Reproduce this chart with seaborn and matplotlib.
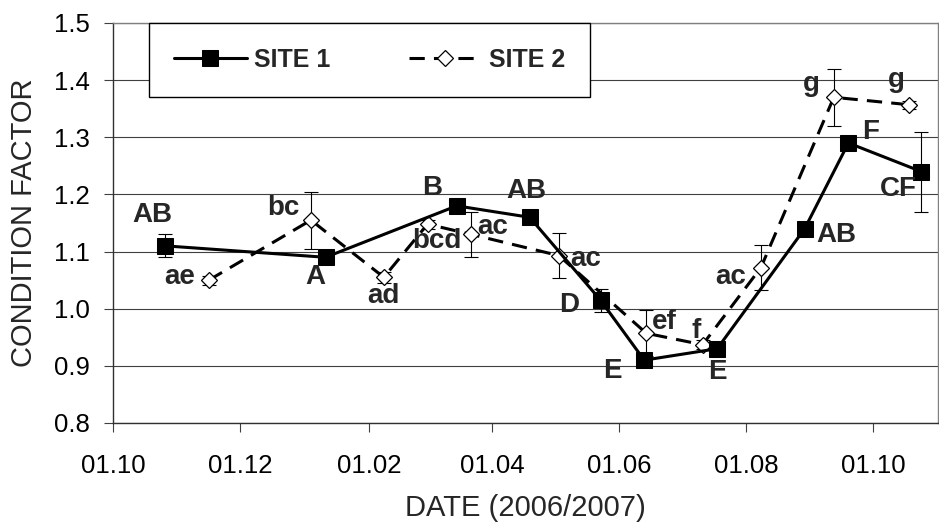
import matplotlib
matplotlib.use("Agg")
import matplotlib.pyplot as plt
import matplotlib.dates as mdates
import matplotlib.ticker as mticker
import pandas as pd
import seaborn as sns

# Condition factor by sampling date, with letter groups from the multiple comparison
site1_dates = ["2006-10-26", "2007-01-11", "2007-03-15", "2007-04-19", "2007-05-23",
               "2007-06-13", "2007-07-18", "2007-08-29", "2007-09-19", "2007-10-24"]
site1_cf = [1.11, 1.09, 1.18, 1.16, 1.015, 0.91, 0.93, 1.14, 1.29, 1.24]
site1_err = [0.02, 0.005, 0.005, 0.005, 0.02, 0.005, 0.005, 0.012, 0.005, 0.07]
site1_groups = ["AB", "A", "B", "AB", "D", "E", "E", "AB", "F", "CF"]

site2_dates = ["2006-11-16", "2007-01-04", "2007-02-08", "2007-03-01", "2007-03-22",
               "2007-05-03", "2007-06-14", "2007-07-11", "2007-08-08", "2007-09-12",
               "2007-10-18"]
site2_cf = [1.05, 1.155, 1.055, 1.148, 1.13, 1.093, 0.957, 0.937, 1.072, 1.37, 1.357]
site2_err = [0.008, 0.05, 0.01, 0.008, 0.04, 0.04, 0.04, 0.008, 0.04, 0.05, 0.007]
site2_groups = ["ae", "bc", "ad", "bcd", "ac", "ac", "ef", "f", "ac", "g", "g"]

series_names = ["SITE 1", "SITE 2"]
y_ticks = [0.8, 0.9, 1.0, 1.1, 1.2, 1.3, 1.4, 1.5]
x_title = "DATE (2006/2007)"
y_title = "CONDITION FACTOR"

# label placement around each point (pixels, x right / y up)
site1_offsets = [(-13, 31), (-10, -20), (-25, 18), (-3, 26), (-31, -5),
                 (-32, -11), (0, -23), (32, -6), (22, 11), (-23, -17)]
site2_offsets = [(-29, 3), (-27, 12), (0, -19), (9, -17), (21, 7), (27, -3),
                 (18, 11), (-6, 14), (-30, -9), (-23, 13), (-13, 25)]

s1 = pd.DataFrame({"date": pd.to_datetime(site1_dates), "cf": site1_cf, "err": site1_err})
s2 = pd.DataFrame({"date": pd.to_datetime(site2_dates), "cf": site2_cf, "err": site2_err})

sns.set_theme(style="white")
plt.rcParams["font.family"] = ["Liberation Sans", "DejaVu Sans"]

fig = plt.figure(figsize=(9.39, 5.27), dpi=100)
ax = fig.add_axes([113 / 939, 1 - 423 / 527, 825 / 939, 400 / 527])

# grid
ax.set_axisbelow(True)
ax.yaxis.grid(True, color="#404040", linewidth=0.8)

# SITE 2 (dashed, open diamonds) underneath SITE 1
ax.errorbar(s2["date"], s2["cf"], yerr=s2["err"], fmt="none", ecolor="black",
            elinewidth=0.8, capsize=4.7, capthick=0.8, zorder=2)
sns.lineplot(data=s2, x="date", y="cf", ax=ax, color="black", linewidth=2.2,
             linestyle=(0, (5, 3)), marker="D", markersize=8.0,
             markerfacecolor="white", markeredgecolor="black", markeredgewidth=0.9,
             errorbar=None, label=series_names[1], zorder=3)

ax.errorbar(s1["date"], s1["cf"], yerr=s1["err"], fmt="none", ecolor="black",
            elinewidth=0.8, capsize=4.7, capthick=0.8, zorder=4)
sns.lineplot(data=s1, x="date", y="cf", ax=ax, color="black", linewidth=2.2,
             marker="s", markersize=11.5, markerfacecolor="black",
             markeredgecolor="black", errorbar=None, label=series_names[0], zorder=5)

# group letters
for d, v, g, off in zip(s1["date"], site1_cf, site1_groups, site1_offsets):
    ax.annotate(g, (d, v), xytext=off, textcoords="offset pixels", ha="center",
                va="center", fontweight="bold", fontsize=20, zorder=6)
for d, v, g, off in zip(s2["date"], site2_cf, site2_groups, site2_offsets):
    ax.annotate(g, (d, v), xytext=off, textcoords="offset pixels", ha="center",
                va="center", fontweight="bold", fontsize=20, zorder=6)

# axes
ax.set_xlim(pd.Timestamp("2006-10-01"), pd.Timestamp("2007-11-01"))
ax.set_ylim(0.8, 1.5)
ax.set_yticks(y_ticks)
ax.yaxis.set_major_formatter(mticker.FormatStrFormatter("%.1f"))
ax.xaxis.set_major_locator(mdates.MonthLocator(bymonth=[2, 4, 6, 8, 10, 12]))
ax.xaxis.set_major_formatter(mdates.DateFormatter("%d.%m"))
ax.tick_params(axis="both", which="major", direction="out", length=6.5, width=0.8,
               color="#404040", labelsize=18.5, labelcolor="black",
               bottom=True, left=True)
ax.tick_params(axis="x", pad=16)
ax.tick_params(axis="y", pad=10)
ax.set_xlabel(x_title, fontsize=21, labelpad=11)
ax.set_ylabel(y_title, fontsize=21, labelpad=12)

for side in ["left", "bottom"]:
    ax.spines[side].set_color("#303030")
    ax.spines[side].set_linewidth(1.0)
for side in ["right", "top"]:
    ax.spines[side].set_color("#808080")
    ax.spines[side].set_linewidth(1.0)

# legend: SITE 1 first
handles, labels = ax.get_legend_handles_labels()
order = [labels.index(n) for n in series_names]
leg = ax.legend([handles[i] for i in order], [labels[i] for i in order],
                loc="upper left", bbox_to_anchor=(36 / 825, 1.0, 441 / 825, 0.0),
                mode="expand", ncol=2, frameon=True, fancybox=False, borderpad=1.0,
                handlelength=2.9, handletextpad=0.3, borderaxespad=0.0,
                prop={"weight": "bold", "size": 18})
leg.get_frame().set_edgecolor("black")
leg.get_frame().set_linewidth(1.0)
leg.get_frame().set_facecolor("white")
leg.get_frame().set_alpha(1.0)
leg.set_zorder(10)

fig.savefig("out.png", dpi=100)
